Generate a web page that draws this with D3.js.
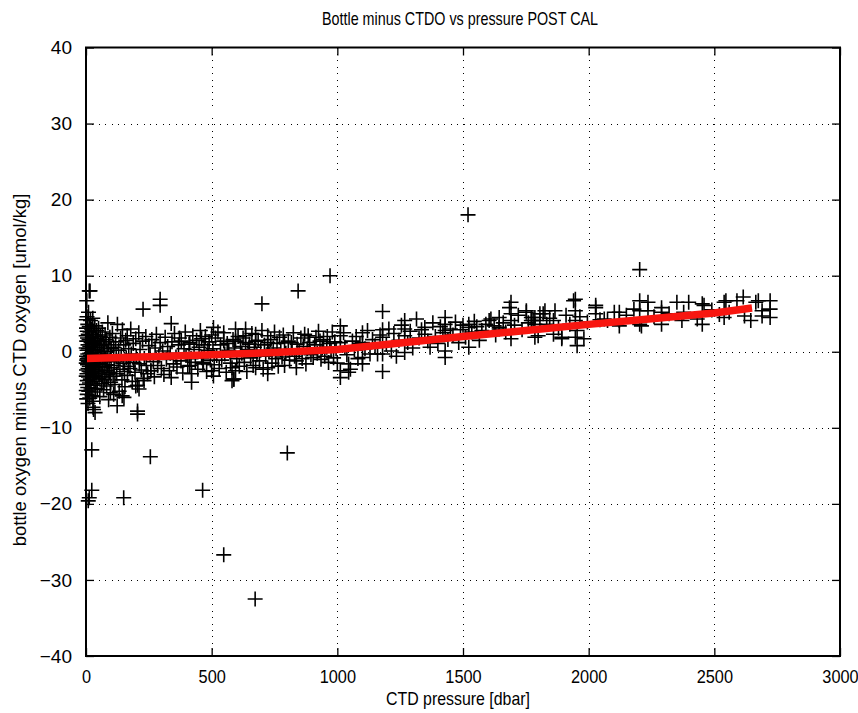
<!DOCTYPE html>
<html>
<head>
<meta charset="utf-8">
<script src="https://cdn.jsdelivr.net/npm/d3@7"></script>
<style>
  html, body { margin: 0; padding: 0; background: #fff; }
  svg { display: block; }
  text { font-family: "Liberation Sans", Arial, Helvetica, sans-serif; fill: #000; }
</style>
</head>
<body>
<svg id="chart" width="858" height="713"></svg>
<script>
// ---------------- DATA ----------------
const titleText = "Bottle minus CTDO vs pressure POST CAL";
const xLabelText = "CTD pressure [dbar]";
const yLabelText = "bottle oxygen minus CTD oxygen [umol/kg]";
const xTicks = [0, 500, 1000, 1500, 2000, 2500, 3000];
const yTicks = [-40, -30, -20, -10, 0, 10, 20, 30, 40];

// observations [pressure dbar, bottle - CTD oxygen umol/kg]
const surfaceObs = [[1,4.2],[1,2.1],[1,0.5],[1,-1.5],[1,-3.2],[1,-5.1],[2,3.1],[2,-0.6],[2,-2.4],[2,-4.3],[3,1.4],[3,-1.1],[3,-6.2],[4,4.6],[4,0.2],[4,-2.9],[5,2.7],[5,-0.9],[5,-3.8],[5,-5.6],[6,1.8],[6,-1.7],[7,3.6],[7,-0.3],[7,-4.7],[8,0.9],[8,-2.2],[8,-6.8],[9,2.3],[9,-1.3],[10,5.2],[10,0.4],[10,-3.3],[11,-0.7],[11,-5.2],[12,1.6],[12,-2.6],[13,3.3],[13,-1.9],[14,-4.1],[15,0.7],[15,-0.2],[15,-6.1],[16,2.6],[17,-1.4],[17,-3.6],[18,4.1],[18,-0.5],[19,-2.8],[20,1.2],[20,-4.9],[21,-1.1],[22,3.0],[22,-0.1],[23,-2.3],[24,-5.8],[25,1.9],[25,-0.8],[26,-3.4],[27,4.4],[28,0.3],[28,-1.8],[29,-6.5],[30,2.2],[30,-2.9],[31,-0.6],[32,-4.4],[33,1.1],[34,-1.6],[35,3.4],[35,-3.1],[36,-0.4],[37,-5.3],[38,1.7],[39,-2.1],[40,0.6],[40,-3.9],[42,2.8],[42,-1.2],[44,-2.6],[45,0.2],[45,-4.8],[47,1.5],[48,-0.9],[50,-2.4],[50,3.1],[52,-3.5],[53,0.8],[55,-1.5],[55,-5.9],[57,2.0],[58,-0.6],[60,-2.8],[60,1.3],[62,-4.2],[63,0.1],[65,-1.9],[65,2.6],[67,-3.3],[68,-0.3],[70,1.0],[70,-5.0],[72,-2.0],[74,0.5],[75,-3.7],[76,2.2],[78,-1.0],[80,-2.5],[80,1.6],[82,-4.5],[84,0.0],[85,-1.7],[87,3.8],[88,-3.0],[90,0.9],[90,-6.3],[92,-1.3],[94,-2.7],[95,1.9],[97,-0.5],[98,-4.0],[100,0.4],[100,-2.1]];

const shallowObs = [[105,2.4],[108,-3.2],[110,0.6],[112,-1.8],[115,-4.3],[118,1.3],[120,-0.7],[122,-2.9],[125,3.6],[128,-1.2],[130,0.2],[132,-5.2],[135,-2.3],[138,1.8],[140,-0.4],[143,-3.7],[145,2.9],[148,-1.5],[150,0.9],[153,-2.6],[155,-4.6],[158,1.5],[160,-0.8],[164,2.1],[165,-3.1],[168,-1.9],[170,0.4],[175,-2.2],[178,3.0],[180,-0.3],[184,-3.9],[188,1.1],[190,-1.4],[195,-2.7],[198,1.7],[200,-0.6],[205,-4.4],[210,2.5],[212,-1.6],[215,0.3],[220,-2.4],[225,1.4],[228,-3.5],[232,-0.9],[238,2.0],[240,-1.8],[245,-2.9],[250,0.8],[255,-0.4],[258,-2.5],[262,1.6],[268,-1.3],[272,-3.3],[275,0.5],[280,2.3],[285,-1.8],[290,-0.6],[295,1.2],[300,-2.2],[305,0.1],[310,-3.0],[315,1.9],[320,-1.0],[325,0.7],[332,-2.5],[335,-0.2],[339,-3.4],[342,1.3],[348,-1.6],[352,2.4],[358,-0.7],[362,-2.0],[368,0.9],[372,1.8],[378,-1.2],[379,1.4],[385,-2.8],[390,0.4],[395,2.6],[398,-0.5],[405,-1.9],[410,1.0],[413,1.2],[413,-1.8],[418,-0.9],[420,-2.9],[425,2.1],[430,0.3],[435,-1.4],[440,1.5],[445,-2.3],[450,0.6],[455,2.8],[460,1.7],[460,-0.8],[465,-1.6],[467,-1.4],[470,0.9],[475,2.0],[480,-2.6],[485,0.2],[490,1.3],[495,-1.1],[500,-2.5],[500,2.2]];

const midObs = [[505,0.4],[510,-1.7],[515,1.8],[520,-0.5],[525,2.6],[530,-2.2],[535,0.9],[540,-1.1],[548,2.5],[548,1.4],[552,-0.3],[558,-2.7],[562,1.1],[568,0.2],[575,-1.5],[581,-2.1],[581,-3.8],[585,1.6],[588,-3.6],[590,0.5],[595,3.0],[595,1.4],[595,-2.5],[600,-0.9],[605,2.0],[610,-1.9],[615,0.7],[620,-0.2],[625,1.8],[630,-1.4],[635,3.0],[635,2.1],[635,1.2],[640,-2.6],[645,0.3],[650,1.0],[655,-0.8],[660,2.4],[665,-1.8],[670,0.6],[675,2.3],[675,1.4],[675,-2.1],[680,-0.4],[685,1.5],[690,-1.2],[695,0.2],[700,2.8],[705,-2.3],[710,0.9],[715,-0.6],[723,2.1],[723,1.2],[723,-2.1],[723,-2.9],[728,0.0],[735,1.6],[740,-1.5],[745,0.5],[750,2.6],[755,-0.9],[760,1.1],[765,-1.9],[770,1.9],[775,0.3],[780,-0.7],[785,2.2],[790,1.2],[790,-1.8],[795,-0.2],[805,1.4],[810,-1.1],[817,1.2],[820,0.4],[825,2.5],[830,-0.6],[837,-1.2],[837,-2.1],[840,1.0],[848,0.1],[855,1.8],[860,-0.9],[865,0.7],[870,2.3],[875,-1.6],[880,0.4],[884,2.1],[890,1.2],[895,-0.4],[904,-0.75],[910,0.9],[915,1.9],[920,-0.2],[925,2.7],[931,1.4],[935,-1.0],[940,0.5],[945,1.6],[950,-0.6],[958,0.6],[960,2.0],[965,-1.4],[970,1.1],[975,0.2],[980,2.6],[985,-0.8],[990,1.3],[995,0.4],[1000,-1.5]];

const deepObs = [[1012,3.4],[1012,2.1],[1012,1.2],[1012,-2.5],[1012,-3.4],[1025,2.5],[1030,0.6],[1038,-0.4],[1045,-2.7],[1045,-1.6],[1052,-2.3],[1060,1.4],[1068,0.2],[1075,2.0],[1082,-0.9],[1090,1.1],[1100,2.5],[1100,1.2],[1100,-0.75],[1100,-1.6],[1110,0.4],[1120,2.8],[1130,-0.3],[1140,1.6],[1150,0.8],[1160,-0.3],[1170,2.2],[1180,5.3],[1180,2.9],[1180,1.9],[1180,-0.3],[1180,-2.6],[1195,1.0],[1205,3.0],[1215,0.1],[1225,2.4],[1235,-0.6],[1245,1.5],[1255,3.5],[1268,4.1],[1268,3.0],[1268,2.1],[1268,-0.1],[1280,1.2],[1290,2.7],[1300,0.5],[1315,4.3],[1325,1.8],[1335,2.9],[1348,3.2],[1348,2.3],[1360,1.4],[1369,0.6],[1380,3.8],[1390,2.0],[1400,1.1],[1410,3.3],[1420,2.5],[1429,4.5],[1429,3.6],[1429,2.8],[1429,0.1],[1429,-0.75],[1440,1.6],[1450,3.0],[1460,2.2],[1470,3.9],[1483,1.2],[1490,2.9],[1500,3.5],[1510,1.9],[1523,3.2],[1523,3.6],[1523,0.6],[1535,2.6],[1545,4.0],[1555,3.3],[1565,1.5],[1575,2.8],[1591,3.6]];

const abyssObs = [[1604,4.1],[1611,4.3],[1624,3.4],[1630,2.2],[1644,4.5],[1644,3.0],[1644,3.2],[1660,3.8],[1670,2.6],[1685,5.8],[1691,6.5],[1691,5.0],[1691,4.1],[1691,2.8],[1691,1.7],[1705,3.5],[1720,4.8],[1735,2.9],[1752,5.4],[1752,5.2],[1760,3.8],[1772,4.5],[1772,4.1],[1779,4.1],[1786,4.5],[1786,3.6],[1786,1.9],[1799,2.1],[1806,4.1],[1806,5.0],[1819,5.0],[1826,5.4],[1833,3.6],[1845,4.4],[1860,4.1],[1860,2.3],[1866,5.4],[1880,3.1],[1893,1.9],[1893,1.7],[1910,4.8],[1925,3.6],[1940,6.7],[1947,6.9],[1947,5.4],[1947,4.1],[1947,1.9],[1954,2.8],[1954,0.8],[1965,4.6],[1981,1.7],[1995,3.9],[2028,6.1],[2028,5.8],[2028,5.0],[2045,4.2],[2062,4.3],[2075,4.1],[2102,5.2],[2122,5.2],[2122,4.1],[2122,3.4],[2150,4.8],[2180,5.6],[2203,6.7],[2203,5.4],[2203,3.6],[2210,3.4],[2236,6.5],[2236,5.4],[2260,4.6],[2290,5.8],[2290,5.2],[2290,3.6],[2320,5.0],[2351,6.5],[2371,4.1],[2378,5.2],[2398,6.5],[2432,4.3],[2452,6.3],[2459,6.1],[2452,3.6],[2490,5.5],[2520,4.9],[2539,6.5],[2539,4.5],[2546,6.7],[2559,5.2],[2590,6.7],[2615,7.2],[2620,4.7],[2645,4.1],[2665,6.5],[2675,6.7],[2690,5.4],[2690,4.7],[2722,6.7],[2722,5.6],[2722,4.5]];

const outlierObs = [[13,8.0],[16,8.0],[3,6.7],[28,-7.3],[30,-7.6],[36,-8.0],[97,-5.4],[110,-5.6],[124,-7.1],[144,-5.8],[151,-6.0],[198,-4.5],[211,-4.9],[205,-7.8],[205,-8.2],[231,-3.8],[23,-12.9],[256,-13.8],[801,-13.3],[23,-18.2],[13,-19.2],[9,-19.6],[150,-19.2],[464,-18.2],[548,-26.7],[673,-32.5],[971,10.0],[844,8.0],[700,6.3],[295,6.9],[295,6.1],[227,5.6],[339,3.7],[507,3.2],[1520,18.0],[2203,10.8],[420,-4.0],[588,-3.6],[507,-3.2],[258,-2.5]];

// fitted trend (red)
const fitPressure = [0, 250, 500, 750, 1000, 1250, 1500, 1750, 2000, 2250, 2500, 2650];
const fitDiff     = [-0.9, -0.65, -0.4, -0.1, 0.3, 1.15, 2.0, 2.8, 3.6, 4.35, 5.1, 5.75];

// ---------------- DRAW ----------------
const svg = d3.select("#chart");
const mLeft = 86, mRight = 840, mTop = 47.5, mBottom = 656;
const x = d3.scaleLinear().domain([0, 3000]).range([mLeft, mRight]);
const y = d3.scaleLinear().domain([-40, 40]).range([mBottom, mTop]);

svg.append("rect").attr("width", 858).attr("height", 713).attr("fill", "#fff");

// grid (dotted)
const grid = svg.append("g").attr("stroke", "#000").attr("stroke-width", 1)
  .attr("stroke-dasharray", "1,5.4").attr("shape-rendering", "crispEdges");
grid.selectAll("line.vx").data(xTicks.slice(1, -1)).join("line").attr("class", "vx")
  .attr("x1", d => Math.round(x(d)) + 0.5).attr("x2", d => Math.round(x(d)) + 0.5)
  .attr("y1", mTop).attr("y2", mBottom);
grid.selectAll("line.hy").data(yTicks.slice(1, -1)).join("line").attr("class", "hy")
  .attr("y1", d => Math.round(y(d)) + 0.5).attr("y2", d => Math.round(y(d)) + 0.5)
  .attr("x1", mLeft).attr("x2", mRight);

// markers
const allObs = [].concat(surfaceObs, shallowObs, midObs, deepObs, abyssObs, outlierObs);
const arm = 7.5;
svg.append("g").attr("stroke", "#000").attr("stroke-width", 1.6).attr("fill", "none")
  .selectAll("path").data(allObs).join("path")
  .attr("d", d => {
    const cx = x(d[0]), cy = y(d[1]);
    return `M${cx - arm},${cy}H${cx + arm}M${cx},${cy - arm}V${cy + arm}`;
  });

// red fit line
const fitData = fitPressure.map((p, i) => [p, fitDiff[i]]);
svg.append("path").datum(fitData)
  .attr("fill", "none").attr("stroke", "#f81610").attr("stroke-width", 7.5)
  .attr("stroke-linejoin", "round")
  .attr("d", d3.line().x(d => x(d[0])).y(d => y(d[1])));

// axes (ticks inward, box)
const tickLen = 8;
const fmt = d => d3.format("d")(d).replace("-", "\u2212");
const xAxisB = d3.axisBottom(x).tickValues(xTicks).tickSize(-tickLen).tickPadding(14).tickFormat(fmt);
const xAxisT = d3.axisTop(x).tickValues(xTicks).tickSize(-tickLen).tickFormat("");
const yAxisL = d3.axisLeft(y).tickValues(yTicks).tickSize(-tickLen).tickPadding(14).tickFormat(fmt);
const yAxisR = d3.axisRight(y).tickValues(yTicks).tickSize(-tickLen).tickFormat("");

function styleAxis(g) {
  g.select(".domain").remove();
  g.selectAll(".tick line").attr("stroke", "#000").attr("stroke-width", 1.3);
  g.selectAll("text").attr("font-size", 19).attr("font-family", "Liberation Sans, Arial, sans-serif").attr("fill", "#000");
}
svg.append("g").attr("transform", `translate(0,${mBottom})`).call(xAxisB).call(styleAxis)
  .selectAll(".tick text").attr("transform", "scale(0.86,1)");
svg.append("g").attr("transform", `translate(0,${mTop})`).call(xAxisT).call(styleAxis);
svg.append("g").attr("transform", `translate(${mLeft},0)`).call(yAxisL).call(styleAxis);
svg.append("g").attr("transform", `translate(${mRight},0)`).call(yAxisR).call(styleAxis);

svg.append("rect").attr("x", mLeft).attr("y", mTop).attr("width", mRight - mLeft).attr("height", mBottom - mTop)
  .attr("fill", "none").attr("stroke", "#000").attr("stroke-width", 2);

// title & labels
svg.append("text").attr("x", 460).attr("y", 25).attr("text-anchor", "middle")
  .attr("font-size", 18.5).attr("textLength", 276).attr("lengthAdjust", "spacingAndGlyphs").text(titleText);
svg.append("text").attr("x", 458).attr("y", 705).attr("text-anchor", "middle")
  .attr("font-size", 19).attr("textLength", 144).attr("lengthAdjust", "spacingAndGlyphs").text(xLabelText);
svg.append("text").attr("transform", `translate(26,370) rotate(-90)`)
  .attr("text-anchor", "middle").attr("font-size", 18.5).text(yLabelText);
</script>
</body>
</html>
